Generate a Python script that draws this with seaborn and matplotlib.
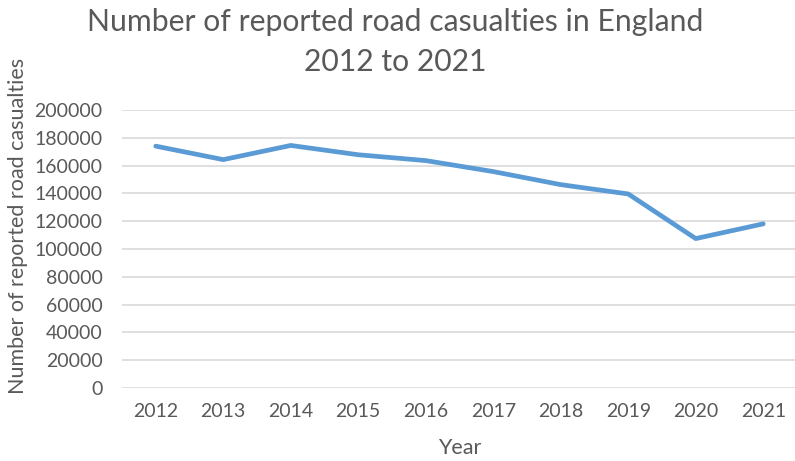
import matplotlib
matplotlib.use("Agg")
import matplotlib.pyplot as plt
import seaborn as sns
import pandas as pd

years = ["2012", "2013", "2014", "2015", "2016", "2017", "2018", "2019", "2020", "2021"]
casualties = [174000, 164300, 174500, 167800, 163600, 155700, 146300, 139600, 107500, 118100]
yticks = [0, 20000, 40000, 60000, 80000, 100000, 120000, 140000, 160000, 180000, 200000]

sns.set_theme(style="white")
plt.rcParams['font.family'] = ['Lato', 'DejaVu Sans']
grey = "#595959"

df = pd.DataFrame({"Year": years, "Casualties": casualties})

fig = plt.figure(figsize=(7.95, 4.61), dpi=100)
ax = fig.add_axes([122/795, 73/461, 675/795, 278/461])

for t in yticks:
    ax.axhline(t, color="#D9D9D9", lw=1.2, zorder=0)

sns.lineplot(data=df, x="Year", y="Casualties", ax=ax, color="#5B9BD5", lw=3.4, sort=False)

ax.set_xlim(-0.5, len(years) - 0.5)
ax.set_ylim(0, 200000)
ax.set_yticks(yticks)
ax.set_yticklabels([str(t) for t in yticks])
for s in ax.spines.values():
    s.set_visible(False)
ax.tick_params(axis="both", length=0, labelsize=14, colors=grey)
ax.tick_params(axis="x", pad=11)
ax.tick_params(axis="y", pad=14)
ax.set_xlabel("Year", fontsize=15.5, color=grey, labelpad=13)
ax.set_ylabel("")
fig.text(18/795, 1 - 226/461, "Number of reported road casualties", rotation=90,
         ha="center", va="center", fontsize=15.5, color=grey)

fig.text(395/795, 1 - 22/461, "Number of reported road casualties in England",
         ha="center", va="center", fontsize=21.7, color=grey)
fig.text(395/795, 1 - 62/461, "2012 to 2021",
         ha="center", va="center", fontsize=21.7, color=grey)

fig.savefig("out.png", dpi=100)
